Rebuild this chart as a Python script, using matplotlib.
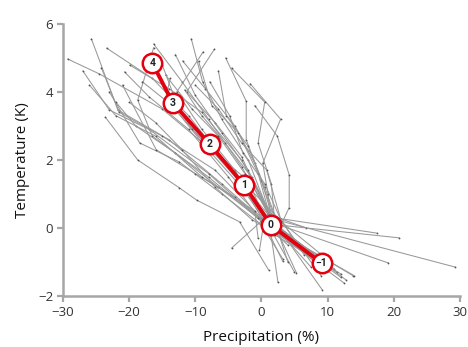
import matplotlib
matplotlib.use("Agg")
import matplotlib.pyplot as plt

plt.rcParams['font.family'] = ['Open Sans', 'DejaVu Sans']

# Ensemble member trajectories (precipitation %, temperature K), top (4) to bottom (-1)
model_x = [
    [-25.7, -21.7, -14.0, -6.0, 1.0, 9.5],
    [-23.4, -16.5, -11.0, -5.0, 0.5, 12.8],
    [-29.3, -24.5, -15.0, -7.0, 3.0, 29.3],
    [-27.0, -23.0, -17.0, -8.0, 0.0, 13.9],
    [-16.3, -12.0, -8.0, -3.0, 1.5, 9.2],
    [-16.3, -18.7, -16.5, -8.0, 0.0, 12.5],
    [-10.6, -8.9, -6.0, -2.0, 1.0, 5.3],
    [-8.8, -12.8, -9.0, -4.0, 0.0, 3.2],
    [-7.1, -11.3, -7.0, -3.0, 1.0, 6.8],
    [-11.9, -8.5, -4.0, -1.0, 2.0, 17.4],
    [-5.4, -2.3, -2.3, 0.0, 2.0, 20.8],
    [-6.5, -5.3, -2.0, 0.5, 2.5, 19.2],
    [-1.7, 2.9, 0.2, 1.0, 1.5, 14.0],
    [-20.7, -17.0, -11.0, -5.0, 0.0, -4.5],
    [-19.9, -14.0, -9.0, -3.0, 1.0, 9.8],
    [-24.2, -21.5, -15.0, -7.0, 0.5, 12.0],
    [-23.6, -18.7, -12.4, -9.8, -3.3, 1.1],
    [-23.0, -18.4, -12.4, -6.0, 0.0, 3.2],
    [-21.0, -15.9, -10.0, -4.0, 1.0, 5.0],
    [-13.8, -14.5, -9.0, -3.5, 1.5, 8.5],
    [-11.6, -9.0, -5.5, -1.5, 2.0, 11.0],
    [-4.5, 0.5, -0.5, 1.5, 2.0, 4.0],
    [-1.0, 2.4, 4.2, 4.2, 2.5, 11.5],
    [-14.5, -10.5, -6.5, -2.5, 0.5, -0.3],
    [-20.0, -16.0, -12.0, -7.0, -1.4, 6.0],
    [-9.5, -7.5, -3.5, -0.5, 1.5, 10.0],
    [-13.0, -10.0, -6.0, -2.0, 2.5, 8.0],
    [-18.0, -13.5, -8.5, -3.0, 2.0, 12.0],
    [-22.0, -19.0, -13.0, -6.5, -0.5, 4.0],
    [-7.8, -4.8, -2.8, 0.5, 2.8, 6.5],
    [-17.5, -15.0, -10.5, -5.5, 1.0, 2.5],
    [-15.0, -12.5, -7.5, -1.5, 2.2, 7.5],
    [-10.0, -6.5, -3.0, 0.8, 3.0, 9.0],
    [-26.0, -22.0, -16.0, -9.0, -1.0, -0.5],
]
model_y = [
    [5.56, 3.47, 2.6, 1.3, 0.1, -1.2],
    [5.29, 4.4, 3.3, 1.8, 0.3, -1.53],
    [4.97, 4.53, 3.5, 2.2, 0.2, -1.15],
    [4.62, 3.47, 2.9, 1.6, 0.2, -1.41],
    [5.41, 4.3, 3.2, 1.8, 0.3, -1.82],
    [5.3, 3.76, 2.7, 1.5, 0.2, -1.62],
    [5.56, 4.3, 3.2, 2.0, 0.5, -1.32],
    [5.18, 4.0, 2.9, 1.7, 0.3, -0.97],
    [5.26, 4.0, 3.1, 2.1, 0.4, 0.0],
    [4.91, 4.1, 3.0, 1.9, 0.3, -0.15],
    [5.0, 3.73, 2.6, 1.4, 0.1, -0.29],
    [4.62, 3.3, 2.4, 1.2, 0.1, -1.03],
    [4.24, 3.2, 1.9, 1.0, 0.0, -1.4],
    [4.59, 3.86, 2.9, 1.5, 0.2, -0.59],
    [4.79, 4.1, 3.4, 2.0, 0.5, -0.9],
    [4.71, 3.4, 2.7, 1.7, 0.2, -1.45],
    [3.26, 2.0, 1.18, 0.82, 0.18, -1.24],
    [4.0, 2.5, 1.94, 1.0, 0.1, -0.9],
    [4.2, 2.3, 1.6, 0.9, 0.1, -1.3],
    [4.4, 3.8, 2.6, 1.4, 0.2, -0.85],
    [4.06, 3.3, 2.5, 1.5, 0.1, -1.2],
    [4.7, 3.7, 2.5, 1.3, 0.2, -1.0],
    [3.6, 2.7, 1.56, 0.6, -0.1, -1.3],
    [4.5, 3.5, 2.7, 1.6, 0.3, -0.65],
    [3.7, 3.1, 2.3, 1.2, 0.24, -0.6],
    [4.9, 3.6, 2.8, 1.6, 0.2, -1.1],
    [5.1, 3.9, 2.8, 1.7, 0.0, -1.0],
    [4.3, 3.6, 2.4, 1.2, -0.2, -1.35],
    [3.7, 3.0, 2.2, 1.2, 0.3, -0.5],
    [4.3, 3.3, 2.2, 1.3, 0.3, -0.8],
    [5.0, 4.3, 2.9, 1.9, 0.4, -1.6],
    [4.8, 3.5, 2.3, 1.3, 0.0, -1.15],
    [4.2, 3.5, 2.5, 1.7, 0.2, -1.4],
    [4.2, 3.3, 2.7, 1.5, 0.5, -0.3],
]

# Ensemble mean trajectory
mean_x = [-16.5, -13.4, -7.85, -2.6, 1.4, 9.1]
mean_y = [4.85, 3.68, 2.47, 1.26, 0.09, -1.03]
mean_labels = ["4", "3", "2", "1", "0", "\u22121"]

x_ticks = [-30, -20, -10, 0, 10, 20, 30]
y_ticks = [-2, 0, 2, 4, 6]

fig = plt.figure(figsize=(4.68, 3.47), dpi=100)
ax = fig.add_axes([0.1346, 0.147, 0.848, 0.784])

for xs, ys in zip(model_x, model_y):
    ax.plot(xs, ys, color="#999999", lw=0.75, marker="o", ms=1.3,
            mfc="#555555", mec="none", zorder=2)

ax.plot(mean_x, mean_y, color="#e3000f", lw=2.8, zorder=3,
        marker="o", ms=14, mfc="white", mec="#e3000f", mew=1.8)
for xv, yv, lab in zip(mean_x, mean_y, mean_labels):
    ax.text(xv, yv, lab, ha="center", va="center", fontsize=7.5,
            fontweight="bold", color="#222222", zorder=4,
            family=["Roboto", "DejaVu Sans"], fontstretch="condensed")

ax.set_xlim(-30, 30)
ax.set_ylim(-2, 6)
ax.set_xticks(x_ticks)
ax.set_yticks(y_ticks)
ax.set_xticklabels([str(t).replace("-", "\u2212") for t in x_ticks])
ax.set_yticklabels([str(t).replace("-", "\u2212") for t in y_ticks])

for side in ["top", "right"]:
    ax.spines[side].set_visible(False)
for side in ["left", "bottom"]:
    ax.spines[side].set_color("#a6a6a6")
    ax.spines[side].set_linewidth(1.8)
ax.tick_params(axis="both", colors="#a6a6a6", width=1.6, length=4,
               labelcolor="#333333", labelsize=9.5, pad=3)

ax.set_xlabel("Precipitation (%)", fontsize=11, color="#111111", labelpad=8)
ax.set_ylabel("Temperature (K)", fontsize=11, color="#111111", labelpad=6)

fig.savefig("out.png", dpi=100)
